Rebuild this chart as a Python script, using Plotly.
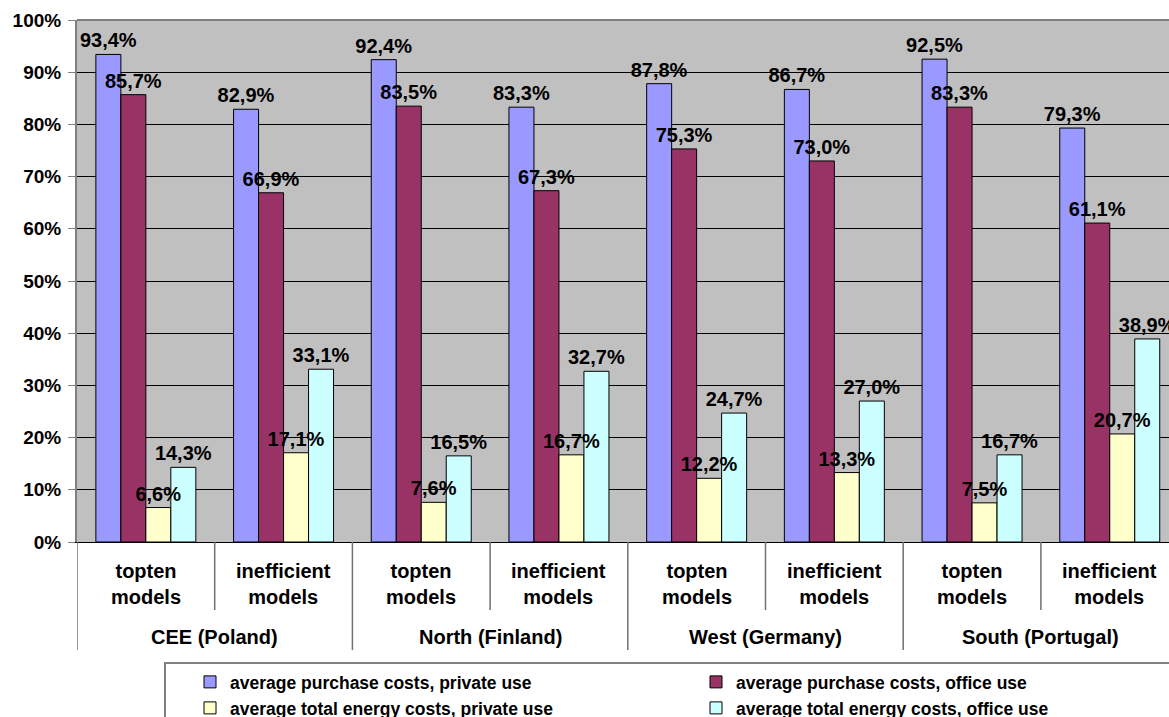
import plotly.graph_objects as go

regions = ["CEE (Poland)", "North (Finland)", "West (Germany)", "South (Portugal)"]
model_types = ["topten<br>models", "inefficient<br>models"]
series_names = [
    "average purchase costs, private use",
    "average purchase costs, office use",
    "average total energy costs, private use",
    "average total energy costs, office use",
]
colors = ["#9999FF", "#993366", "#FFFFCC", "#CCFFFF"]

purchase_private = [93.4, 82.9, 92.4, 83.3, 87.8, 86.7, 92.5, 79.3]
purchase_office = [85.7, 66.9, 83.5, 67.3, 75.3, 73.0, 83.3, 61.1]
energy_private = [6.6, 17.1, 7.6, 16.7, 12.2, 13.3, 7.5, 20.7]
energy_office = [14.3, 33.1, 16.5, 32.7, 24.7, 27.0, 16.7, 38.9]

y_ticks = [0, 10, 20, 30, 40, 50, 60, 70, 80, 90, 100]
y_tick_labels = ["0%", "10%", "20%", "30%", "40%", "50%", "60%", "70%", "80%", "90%", "100%"]

FONT = "Arial, Liberation Sans, sans-serif"
categories = [f"{r} | {m.replace('<br>', ' ')}" for r in regions for m in model_types]
series_values = [purchase_private, purchase_office, energy_private, energy_office]

W, H = 1169, 717
plot_left, plot_top, plot_bottom = 77, 20, 542
ml, mt, mr = plot_left, plot_top, 0
mb = H - plot_bottom
plot_w = W - ml - mr
plot_h = plot_bottom - plot_top
cat_px = 137.7
x_hi = -0.5 + plot_w / cat_px


def py(screen_y):
    return -(screen_y - plot_bottom) / plot_h


def px(screen_x):
    return (screen_x - plot_left) / plot_w


fig = go.Figure()
legends = ["legend", "legend2", "legend3", "legend4"]
groups = ["a", "b", "c", "d"]
for name, vals, col, lg, og in zip(series_names, series_values, colors, legends, groups):
    fig.add_trace(go.Bar(
        x=categories, y=vals, name=name, offsetgroup=og,
        marker=dict(color=col, line=dict(color="black", width=1)),
        legend=lg,
    ))
# value labels drawn on top of all bars
for name, vals, og in zip(series_names, series_values, groups):
    fig.add_trace(go.Bar(
        x=categories, y=vals, name=name, offsetgroup=og, showlegend=False,
        marker=dict(color="rgba(0,0,0,0)", line=dict(width=0)),
        text=[f"{v:.1f}%".replace(".", ",") for v in vals],
        textposition="outside", cliponaxis=False, constraintext="none",
        textfont=dict(family=FONT, size=20, color="black", weight="bold"),
        hoverinfo="skip",
    ))

annotations = []
for i in range(len(categories)):
    annotations.append(dict(
        x=i, xref="x", y=py(584), yref="paper", text=model_types[i % 2],
        showarrow=False, yanchor="middle", xanchor="center",
        font=dict(family=FONT, size=20, color="black", weight="bold"),
    ))
for g, r in enumerate(regions):
    annotations.append(dict(
        x=2 * g + 0.5, xref="x", y=py(637), yref="paper", text=r,
        showarrow=False, yanchor="middle", xanchor="center",
        font=dict(family=FONT, size=20, color="black", weight="bold"),
    ))

shapes = []
for g in range(len(regions)):
    shapes.append(dict(type="line", xref="x", yref="paper", x0=2 * g - 0.5, x1=2 * g - 0.5,
                       y0=0, y1=py(650), line=dict(color="#707070", width=1.5)))
    shapes.append(dict(type="line", xref="x", yref="paper", x0=2 * g + 0.5, x1=2 * g + 0.5,
                       y0=0, y1=py(610), line=dict(color="#707070", width=1.5)))
shapes.append(dict(type="line", xref="paper", yref="paper", x0=0, x1=1, y0=1, y1=1,
                   line=dict(color="#808080", width=2)))
shapes.append(dict(type="rect", xref="paper", yref="paper",
                   x0=px(165), x1=1.2, y0=py(663), y1=py(760),
                   line=dict(color="#808080", width=2), fillcolor="rgba(0,0,0,0)"))

legend_font = dict(family=FONT, size=17.5, color="black", weight="bold")
legend_pos = [(190, 664), (696, 664), (190, 690), (696, 690)]
legend_layouts = {}
for lg, (sx, sy) in zip(legends, legend_pos):
    legend_layouts[lg] = dict(x=px(sx), xanchor="left", y=py(sy), yanchor="top",
                              bgcolor="rgba(0,0,0,0)", borderwidth=0, font=legend_font,
                              orientation="v")

fig.update_layout(
    width=W, height=H,
    margin=dict(l=ml, r=mr, t=mt, b=mb, pad=0, autoexpand=False),
    paper_bgcolor="white", plot_bgcolor="#C0C0C0",
    barmode="group", bargap=0.274, bargroupgap=0,
    font=dict(family=FONT, size=18, color="black"),
    xaxis=dict(range=[-0.5, x_hi], showticklabels=False, ticks="", showgrid=False,
               showline=True, linecolor="black", linewidth=1, zeroline=False,
               automargin=False),
    yaxis=dict(range=[0, 100], tickvals=y_ticks, ticktext=y_tick_labels,
               showgrid=True, gridcolor="black", gridwidth=1,
               showline=True, linecolor="#808080", linewidth=2,
               ticks="outside", ticklen=7, tickcolor="#808080", ticklabelstandoff=3,
               tickfont=dict(family=FONT, size=19, color="black", weight="bold"),
               zeroline=False, automargin=False),
    annotations=annotations,
    shapes=shapes,
    showlegend=True,
    **legend_layouts,
)

fig.write_html(
    "out.html",
    config={"displayModeBar": False},
    post_script="document.body.style.margin='0';document.body.style.overflow='hidden';",
)
